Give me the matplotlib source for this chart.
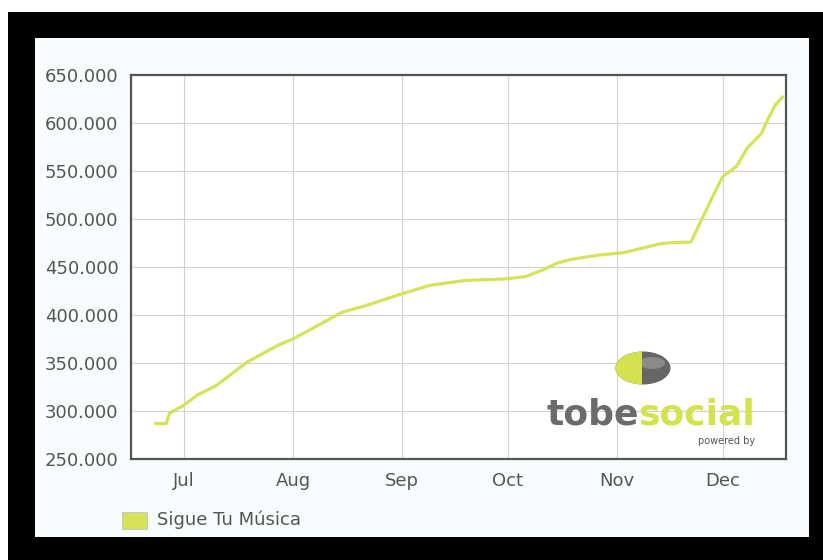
"""
Recreate the 'Sigue Tu Música' follower growth chart (tobesocial style).
"""

import matplotlib
matplotlib.use("Agg")
import matplotlib.dates as mdates
import matplotlib.pyplot as plt
import numpy as np
from matplotlib.patches import Ellipse, Rectangle
from matplotlib.ticker import FuncFormatter, MultipleLocator

# --- data ---
dates = np.array([
    "2010-06-23", "2010-06-26", "2010-06-27", "2010-07-01", "2010-07-05",
    "2010-07-10", "2010-07-19", "2010-07-28", "2010-08-01", "2010-08-15",
    "2010-08-21", "2010-08-31", "2010-09-09", "2010-09-19", "2010-09-30",
    "2010-10-06", "2010-10-11", "2010-10-15", "2010-10-19", "2010-10-27",
    "2010-11-03", "2010-11-08", "2010-11-13", "2010-11-16", "2010-11-22",
    "2010-11-25", "2010-11-28", "2010-12-01", "2010-12-05", "2010-12-08",
    "2010-12-12", "2010-12-14", "2010-12-16", "2010-12-18",
], dtype="datetime64[D]")
followers = np.array([
    287000, 287000, 298000, 306000, 317000,
    326000, 351000, 369000, 375000, 403000,
    409000, 421000, 431000, 436000, 437500,
    440000, 447000, 454000, 458000, 462500,
    465000, 469500, 474000, 475300, 476000,
    499000, 522000, 544000, 555000, 574000,
    589000, 605000, 619000, 627000,
])
series_label = "Sigue Tu Música"
x_range = np.array(["2010-06-16", "2010-12-19"], dtype="datetime64[D]")
y_range = (250000, 650000)

W, H = 823, 560
LINE_GREEN = "#d5e25a"
LOGO_GREEN = "#d4e24e"
TEXT_GRAY = "#555555"


def fx(px):
    return px / W


def fy(py):
    return 1 - py / H


plt.rcParams["font.family"] = ["DejaVu Sans"]
fig = plt.figure(figsize=(W / 100, H / 100), dpi=100, facecolor="white")

# black frame + inner panel
fig.patches.append(Rectangle((fx(8), 0), 1 - fx(8), fy(12), transform=fig.transFigure,
                             facecolor="black", edgecolor="none", zorder=-3))
fig.patches.append(Rectangle((fx(35), fy(537)), fx(809) - fx(35), fy(38) - fy(537),
                             transform=fig.transFigure, facecolor="#f9fcfd",
                             edgecolor="none", zorder=-2))

ax = fig.add_axes([fx(131), fy(459), fx(786) - fx(131), fy(75) - fy(459)])
ax.set_facecolor("white")
ax.plot(dates.astype("datetime64[ms]").astype(object), followers, color=LINE_GREEN,
        linewidth=2.3, solid_joinstyle="round", zorder=3)

ax.set_xlim(x_range.astype("datetime64[ms]").astype(object))
ax.set_ylim(*y_range)
ax.xaxis.set_major_locator(mdates.MonthLocator())
ax.xaxis.set_major_formatter(mdates.DateFormatter("%b"))
ax.yaxis.set_major_locator(MultipleLocator(50000))
ax.yaxis.set_major_formatter(FuncFormatter(lambda v, _: f"{int(v):,}".replace(",", ".")))

ax.grid(True, color="#d2d2d2", linewidth=0.8)
ax.set_axisbelow(True)
ax.tick_params(length=0, labelsize=13, labelcolor=TEXT_GRAY)
ax.tick_params(axis="x", pad=9)
ax.tick_params(axis="y", pad=9)
for sp in ax.spines.values():
    sp.set_color("#555555")
    sp.set_linewidth(1.6)

# legend
fig.patches.append(Rectangle((fx(122), fy(529)), fx(147) - fx(122), fy(512) - fy(529),
                             transform=fig.transFigure, facecolor=LINE_GREEN,
                             edgecolor="#c8c8c8", linewidth=0.8, zorder=2))
fig.text(fx(157), fy(520), series_label, fontsize=13, color=TEXT_GRAY,
         va="center", ha="left")

# tobesocial logo (axes in pixel units, y pointing down)
lax = fig.add_axes([fx(540), fy(448), fx(760) - fx(540), fy(345) - fy(448)])
lax.set_xlim(540, 760)
lax.set_ylim(448, 345)
lax.axis("off")
lax.add_patch(Ellipse((643, 368), 55, 33, facecolor="#666666", edgecolor="none"))
lax.add_patch(Ellipse((652, 363), 26, 12, facecolor="#8a8a8a", edgecolor="none"))
green_half = Ellipse((643, 368), 55, 33, facecolor=LOGO_GREEN, edgecolor="none")
lax.add_patch(green_half)
green_half.set_clip_path(Rectangle((600, 340), 42, 60, transform=lax.transData))

social = lax.text(755, 425, "social", fontsize=26, fontweight="bold", color=LOGO_GREEN,
                  ha="right", va="baseline")
fig.canvas.draw()
left_px = social.get_window_extent().x0
left_data = lax.transData.inverted().transform((left_px, 0))[0]
lax.text(left_data + 1, 425, "tobe", fontsize=26, fontweight="bold", color="#6b6b6b",
         ha="right", va="baseline")
lax.text(755, 441, "powered by", fontsize=7, color="#555555", ha="right", va="center")

fig.savefig("out.png", dpi=100, facecolor="white")
